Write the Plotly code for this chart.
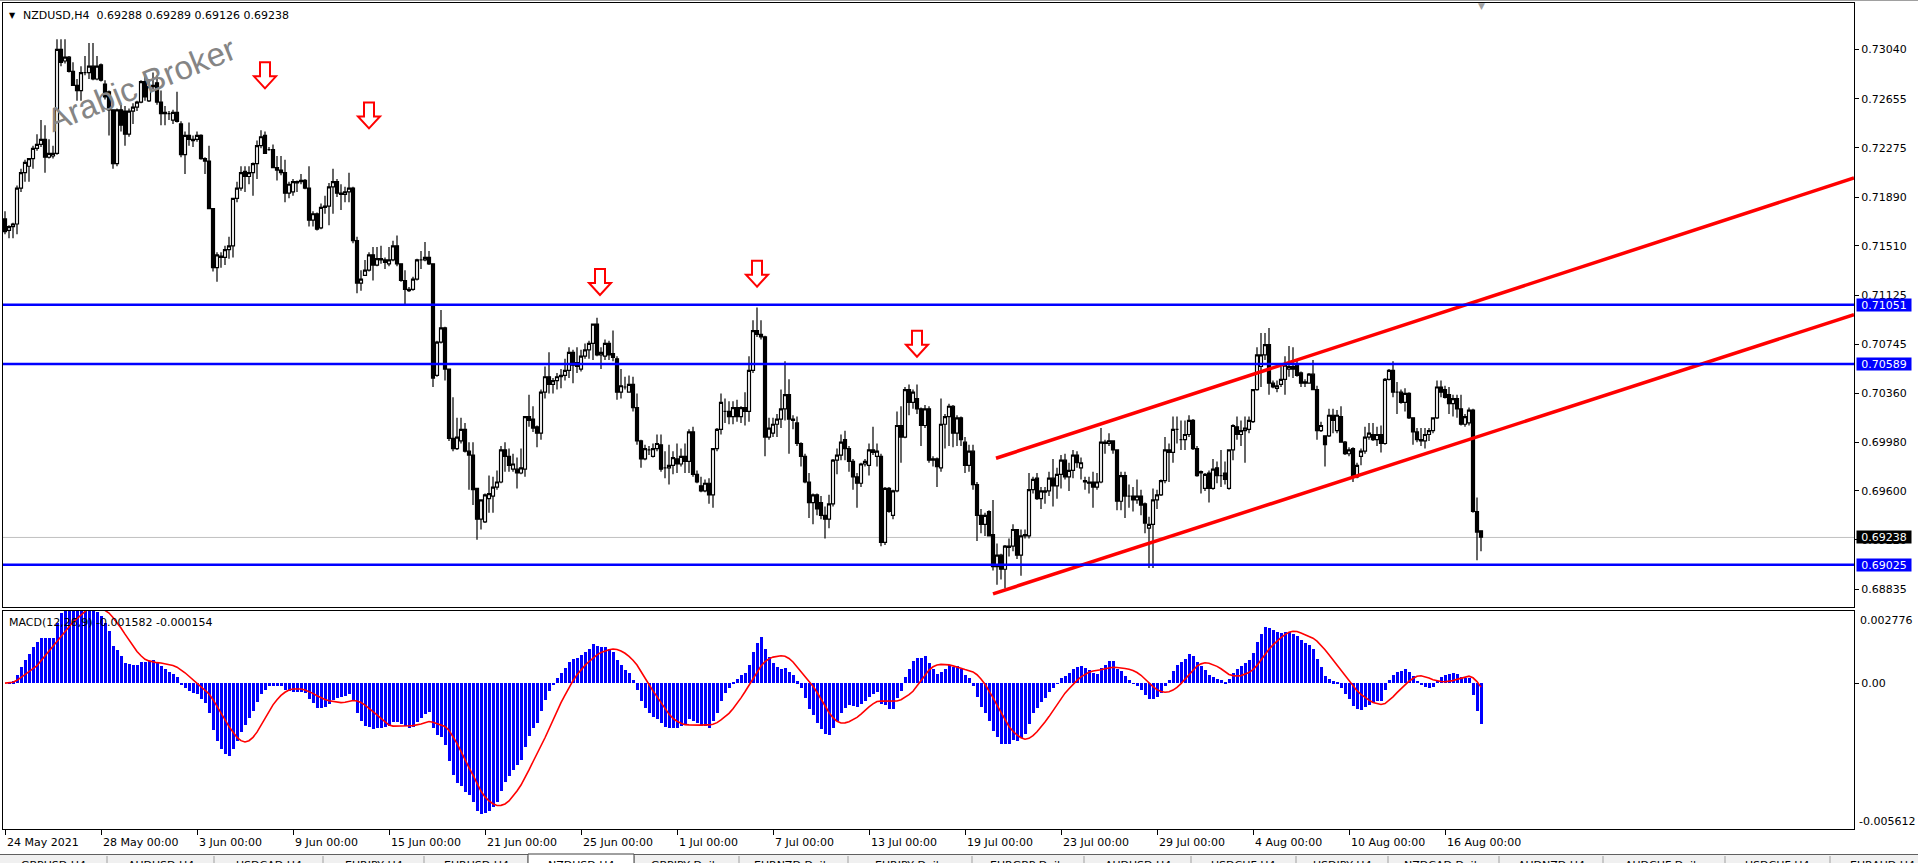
import numpy as np
import pandas as pd
import plotly.graph_objects as go

# ---------------- data (prices in units of 0.0001) ----------------
open_x1e4 = [
7172,7163,7166,7168,7196,7208,7213,7219,7227,7230,
7234,7220,7221,7223,7304,7295,7298,7287,7276,7272,
7286,7286,7291,7281,7292,7277,7271,7257,7215,7257,
7256,7238,7256,7259,7263,7279,7264,7275,7278,7263,
7255,7254,7249,7255,7246,7222,7237,7233,7234,7237,
7219,7217,7180,7134,7142,7142,7148,7151,7188,7196,
7209,7205,7208,7215,7229,7237,7226,7226,7212,7210,
7208,7192,7193,7200,7201,7202,7196,7171,7176,7165,
7181,7182,7197,7201,7192,7191,7193,7196,7155,7122,
7128,7132,7144,7136,7141,7140,7137,7140,7151,7137,
7124,7117,7117,7125,7140,7140,7142,7137,7050,7076,
7087,7055,7001,6993,6999,7008,6991,6988,6962,6938,
6936,6954,6956,6963,6967,6992,6987,6977,6977,6974,
6977,7018,7016,7010,7005,7037,7049,7043,7046,7049,
7050,7054,7068,7060,7055,7065,7070,7075,7090,7066,
7065,7075,7067,7063,7037,7041,7037,7043,7025,6999,
6985,6992,6987,6993,6996,6978,6978,6980,6985,6981,
6987,6983,7006,6973,6964,6960,6966,6957,6993,7008,
7022,7022,7018,7025,7018,7025,7022,7054,7085,7082,
7080,7002,7005,7012,7016,7024,7035,7016,7013,6997,
6987,6967,6951,6957,6951,6941,6938,6950,6984,6988,
7000,6993,6983,6971,6966,6981,6980,6992,6987,6987,
6920,6962,6941,6960,7011,7002,7039,7029,7032,7024,
7011,7024,6984,6985,6978,7012,7018,7026,7005,7017,
6998,6980,6991,6965,6941,6934,6944,6926,6901,6910,
6899,6916,6917,6930,6910,6925,6925,6961,6970,6954,
6959,6960,6970,6964,6973,6984,6971,6976,6988,6978,
6968,6967,6967,6963,6967,6998,6997,6999,6992,6952,
6972,6956,6956,6953,6956,6950,6931,6934,6953,6957,
6968,6992,6990,7008,7000,7000,7004,7015,6993,6974,
6962,6974,6962,6978,6972,6974,6962,6992,7010,7004,
7007,7008,7014,7039,7057,7066,7074,7044,7040,7043,
7047,7055,7057,7058,7052,7045,7044,7051,7039,7007,
7003,7003,7019,7007,7018,6998,6989,6993,6971,6987,
6991,7002,7004,7000,7004,6997,7047,7054,7037,7037,
7029,7036,7017,7006,7000,6999,7004,7007,7017,7041,
7039,7035,7028,7032,7024,7012,7013,7023,6944,6929,
]
high_x1e4 = [
7178,7167,7169,7198,7211,7218,7219,7229,7238,7249,
7245,7234,7229,7312,7312,7312,7299,7294,7281,7291,
7299,7309,7309,7299,7293,7280,7272,7257,7258,7261,
7260,7258,7262,7264,7280,7284,7281,7286,7284,7272,
7260,7256,7257,7271,7248,7240,7247,7237,7240,7238,
7220,7229,7180,7146,7146,7151,7158,7188,7201,7213,
7213,7213,7216,7233,7241,7240,7228,7230,7221,7221,
7218,7201,7203,7202,7207,7203,7213,7178,7177,7184,
7190,7200,7211,7203,7199,7197,7208,7197,7158,7132,
7140,7146,7150,7150,7151,7142,7150,7155,7159,7137,
7132,7119,7127,7141,7147,7154,7147,7137,7077,7101,
7088,7055,7033,7017,7017,7013,6998,6998,6962,6953,
6958,6972,6971,6976,6995,6998,6993,6989,6986,6993,
7018,7035,7026,7011,7039,7057,7068,7048,7052,7055,
7063,7072,7070,7072,7070,7075,7077,7090,7095,7072,
7078,7077,7085,7065,7055,7049,7050,7049,7036,7000,
6996,6995,6997,7004,7004,6991,6996,6991,6997,6993,
6997,7008,7010,6976,6971,6969,6970,6993,7009,7036,
7032,7030,7030,7031,7026,7037,7065,7093,7103,7093,
7081,7017,7017,7020,7039,7061,7047,7019,7018,6998,
6989,6974,6958,6958,6956,6948,6957,6985,6993,7004,
7007,6995,6985,6974,6982,6985,6997,7010,6997,6989,
6963,6963,6961,7022,7026,7041,7043,7039,7043,7025,
7027,7026,6987,6986,7032,7020,7028,7027,7019,7018,
7002,6996,6996,6967,6946,6943,6945,6953,6919,6911,
6918,6923,6934,6930,6930,6930,6974,6971,6974,6963,
6963,6975,6985,6978,6988,6989,6982,6992,6991,6986,
6971,6971,6975,6974,7009,7000,7005,6999,6992,6975,
6975,6965,6963,6969,6961,6951,6940,6962,6961,6969,
7002,6997,7018,7018,7015,7015,7019,7016,6995,6976,
6974,6976,6985,6983,6992,6983,6992,7012,7018,7015,
7018,7018,7039,7072,7083,7083,7087,7046,7046,7057,
7065,7073,7072,7062,7053,7047,7052,7062,7042,7014,
7003,7024,7024,7023,7026,6999,6994,6994,6982,6993,
7010,7013,7013,7010,7011,7048,7055,7061,7045,7039,
7040,7037,7017,7009,7009,7009,7009,7017,7046,7046,
7042,7041,7035,7035,7035,7020,7025,7024,6955,6929,
]
low_x1e4 = [
7160,7157,7157,7160,7193,7201,7201,7211,7225,7228,
7208,7219,7219,7222,7291,7293,7286,7276,7264,7264,
7284,7281,7280,7280,7279,7265,7237,7211,7213,7240,
7229,7236,7246,7256,7262,7264,7263,7273,7261,7245,
7245,7249,7246,7247,7220,7207,7229,7228,7232,7218,
7207,7180,7131,7123,7134,7136,7141,7142,7185,7194,
7193,7199,7190,7203,7227,7223,7225,7212,7202,7206,
7185,7188,7190,7193,7199,7195,7166,7166,7163,7164,
7176,7167,7176,7189,7179,7185,7185,7153,7114,7116,
7128,7131,7124,7135,7137,7133,7135,7139,7135,7123,
7105,7115,7116,7124,7133,7139,7136,7041,7049,7075,
7046,6999,6991,6992,6997,6990,6961,6949,6922,6930,
6935,6943,6943,6961,6966,6975,6975,6975,6962,6973,
6971,7010,7006,6994,7000,7032,7036,7036,7039,7040,
7046,7048,7044,7052,7053,7063,7063,7062,7065,7055,
7062,7062,7061,7031,7032,7039,7037,7022,6996,6978,
6984,6988,6986,6991,6975,6970,6965,6973,6974,6979,
6974,6974,6971,6966,6959,6959,6950,6947,6991,7004,
7013,7012,7012,7014,7013,7011,7014,7052,7080,7078,
6987,7000,7002,7002,7009,7015,6989,7008,6995,6979,
6966,6939,6934,6941,6938,6923,6931,6948,6973,6984,
6984,6975,6961,6947,6963,6979,6972,6988,6979,6917,
6918,6943,6938,6959,6982,7001,7019,7024,7020,6995,
7009,6982,6979,6963,6975,6993,6995,6994,6995,6995,
6974,6975,6961,6921,6927,6925,6925,6898,6887,6891,
6884,6909,6913,6907,6894,6923,6923,6958,6953,6946,
6950,6956,6948,6954,6962,6969,6960,6970,6978,6969,
6961,6958,6947,6961,6966,6989,6995,6989,6945,6945,
6939,6947,6944,6950,6941,6927,6900,6900,6946,6956,
6966,6967,6982,6997,6992,6992,7002,6992,6971,6958,
6960,6951,6961,6966,6963,6965,6961,6984,7000,6995,
6982,7005,7013,7038,7041,7062,7035,7040,7037,7041,
7035,7049,7048,7049,7041,7041,7044,7039,7000,7006,
6979,7002,7005,7005,6998,6988,6987,6967,6970,6980,
6989,7000,6999,6995,6990,6996,7046,7033,7020,7028,
7022,7016,6996,6998,6995,6993,6999,7005,7016,7033,
7032,7020,7018,7017,7011,7010,7011,6943,6906,6913,
]
close_x1e4 = [
7162,7166,7168,7196,7208,7216,7219,7227,7230,7234,
7220,7223,7223,7304,7294,7298,7287,7276,7272,7286,
7286,7291,7281,7291,7280,7267,7257,7215,7257,7245,
7238,7256,7259,7263,7279,7267,7275,7276,7263,7254,
7254,7254,7255,7248,7222,7237,7234,7234,7237,7219,
7217,7180,7134,7144,7143,7148,7151,7188,7196,7208,
7205,7208,7215,7229,7236,7223,7226,7212,7210,7208,
7192,7199,7201,7201,7202,7196,7171,7176,7164,7181,
7182,7197,7201,7192,7191,7193,7196,7155,7122,7125,
7132,7144,7136,7141,7140,7138,7140,7151,7137,7124,
7117,7116,7125,7140,7140,7142,7137,7048,7076,7087,
7055,7001,6993,7002,7008,6991,6988,6961,6938,6953,
6957,6958,6963,6967,6992,6987,6980,6981,6974,6978,
7018,7015,7009,7005,7037,7049,7043,7046,7049,7050,
7054,7068,7058,7057,7065,7070,7075,7090,7066,7068,
7075,7066,7064,7037,7042,7041,7043,7025,6999,6985,
6993,6992,6993,6997,6977,6978,6980,6986,6981,6987,
6983,7006,6973,6967,6960,6966,6957,6993,7008,7029,
7022,7018,7025,7018,7025,7022,7054,7085,7082,7080,
7002,7009,7012,7016,7024,7035,7016,7015,6997,6987,
6967,6951,6957,6946,6941,6938,6950,6984,6988,6998,
6993,6983,6971,6966,6981,6983,6992,6990,6991,6920,
6962,6944,6960,7011,7002,7039,7029,7037,7024,7011,
7024,6984,6985,6979,7012,7018,7026,7005,7017,7000,
6980,6991,6965,6941,6934,6941,6925,6901,6910,6899,
6917,6917,6930,6910,6925,6926,6961,6969,6954,6960,
6960,6970,6964,6973,6984,6971,6976,6988,6982,6982,
6967,6966,6963,6967,6998,6997,6999,6992,6952,6972,
6956,6956,6953,6956,6949,6935,6934,6953,6957,6968,
6992,6990,7008,7008,7000,7004,7015,6993,6972,6975,
6973,6962,6977,6972,6972,6969,6992,7011,7004,7007,
7009,7015,7039,7066,7066,7074,7044,7041,7042,7047,
7058,7057,7055,7050,7044,7044,7051,7039,7007,7011,
6996,7019,7015,7019,6998,6989,6992,6971,6980,6991,
7002,7005,7000,7004,6997,7047,7054,7037,7037,7029,
7036,7017,7006,7000,6999,7004,7007,7017,7041,7037,
7033,7028,7032,7024,7012,7018,7023,6944,6928,6924,
]

# date labels on the time axis (bar index of each label)
date_label_bars = [0, 24, 48, 72, 96, 120, 144, 168, 192, 216, 240, 264, 288, 312, 336, 360]
date_labels = ["24 May 2021", "28 May 00:00", "3 Jun 00:00", "9 Jun 00:00", "15 Jun 00:00",
               "21 Jun 00:00", "25 Jun 00:00", "1 Jul 00:00", "7 Jul 00:00", "13 Jul 00:00",
               "19 Jul 00:00", "23 Jul 00:00", "29 Jul 00:00", "4 Aug 00:00", "10 Aug 00:00",
               "16 Aug 00:00"]

price_ticks = [0.73040, 0.72655, 0.72275, 0.71890, 0.71510, 0.71125, 0.70745,
               0.70360, 0.69980, 0.69600, 0.69220, 0.68835]

level_prices = [0.71051, 0.70589, 0.69025]      # blue horizontal levels
last_price = 0.69238                            # current bid line

channel_upper_bars = [247.75, 462.25]
channel_upper_prices = [0.69855, 0.72039]
channel_lower_bars = [247.0, 462.25]
channel_lower_prices = [0.68798, 0.70974]

# down-arrow markers: bar index and price of the arrow tip
arrow_bars = [65, 91, 148.75, 188, 228]
arrow_tip_prices = [0.72737, 0.72425, 0.71127, 0.71192, 0.70646]

macd_top, macd_bottom = 0.002776, -0.005612

# terminal tabs along the bottom edge
tab_names = ["GBPUSD,H4", "AUDUSD,H4", "USDCAD,H4", "EURJPY,H4", "EURUSD,H4", "NZDUSD,H4",
             "GBPJPY,Daily", "EURNZD,Daily", "EURJPY,Daily", "EURGBP,Daily", "AUDUSD,H4",
             "USDCHF,H4", "USDJPY,H4", "NZDCAD,Daily", "AUDNZD,H4", "AUDCHF,Daily",
             "USDCHF,H4", "EURAUD,H4"]
tab_edges = [0, 107, 214, 323, 424, 528, 634, 739, 848, 972, 1084, 1191, 1296, 1388,
             1499, 1603, 1725, 1830, 1935]
active_tab = 5

# ---------------- derived ----------------
bars = list(range(len(close_x1e4)))
o = [v / 1e4 for v in open_x1e4]
h = [v / 1e4 for v in high_x1e4]
l = [v / 1e4 for v in low_x1e4]
c = [v / 1e4 for v in close_x1e4]

cs = pd.Series(c)
macd_main = cs.ewm(span=12, adjust=False).mean() - cs.ewm(span=26, adjust=False).mean()
macd_signal = macd_main.rolling(9, min_periods=1).mean()

# pixel helpers for paper coordinates
W, H = 1918, 863
ML, MR, MT, MB = 3, 64, 3, 34
PW, PH = W - ML - MR, H - MT - MB
def px(xp):
    return (xp - ML) / PW
def py(yp):
    return (H - MB - yp) / PH

FONT = "DejaVu Sans"

fig = go.Figure()

fig.add_trace(go.Candlestick(
    x=bars, open=o, high=h, low=l, close=c,
    xaxis="x", yaxis="y",
    increasing=dict(line=dict(color="black", width=1.2), fillcolor="white"),
    decreasing=dict(line=dict(color="black", width=1.2), fillcolor="black"),
    whiskerwidth=0, showlegend=False, hoverinfo="skip",
))

for bx, bp in [(channel_upper_bars, channel_upper_prices), (channel_lower_bars, channel_lower_prices)]:
    fig.add_trace(go.Scatter(x=bx, y=bp, mode="lines", xaxis="x", yaxis="y",
                             line=dict(color="#FF0000", width=3.5), showlegend=False,
                             hoverinfo="skip"))

fig.add_trace(go.Bar(x=bars, y=macd_main, xaxis="x2", yaxis="y2",
                     marker=dict(color="#0000FF", line=dict(width=0)), width=0.75,
                     showlegend=False, hoverinfo="skip"))
fig.add_trace(go.Scatter(x=bars, y=macd_signal, xaxis="x2", yaxis="y2", mode="lines",
                         line=dict(color="#FF0000", width=1.6), showlegend=False,
                         hoverinfo="skip"))

shapes = []
for lv in level_prices:
    shapes.append(dict(type="line", xref="paper", yref="y", x0=0, x1=1, y0=lv, y1=lv,
                       line=dict(color="#0000FF", width=2.5)))
shapes.append(dict(type="line", xref="paper", yref="y", x0=0, x1=1, y0=last_price, y1=last_price,
                   line=dict(color="#C0C0C0", width=1), layer="below"))

# hollow down arrows, sized in pixels and anchored at their tips
arrow_path = "M0,0 L-11,12 L-5,12 L-5,26 L5,26 L5,12 L11,12 Z"
for ab, ap in zip(arrow_bars, arrow_tip_prices):
    shapes.append(dict(type="path", xref="x", yref="y", xsizemode="pixel", ysizemode="pixel",
                       xanchor=ab, yanchor=ap, path=arrow_path,
                       line=dict(color="#FF0000", width=2), fillcolor="rgba(255,255,255,0)"))

# window frame at top
shapes.append(dict(type="line", xref="paper", yref="paper", x0=px(0), x1=px(W), y0=py(0.5), y1=py(0.5),
                   line=dict(color="#A0A0A0", width=1)))

# bottom tab bar
shapes.append(dict(type="rect", xref="paper", yref="paper", x0=px(0), x1=px(W), y0=py(854), y1=py(H + 2),
                   fillcolor="#F0F0F0", line=dict(width=0), layer="below"))
shapes.append(dict(type="line", xref="paper", yref="paper", x0=px(0), x1=px(W), y0=py(854.5), y1=py(854.5),
                   line=dict(color="#606060", width=1)))
for i, e in enumerate(tab_edges[1:-1]):
    shapes.append(dict(type="line", xref="paper", yref="paper", x0=px(e), x1=px(e), y0=py(856), y1=py(H),
                       line=dict(color="#A0A0A0", width=1)))
shapes.append(dict(type="rect", xref="paper", yref="paper",
                   x0=px(tab_edges[active_tab]), x1=px(tab_edges[active_tab + 1]),
                   y0=py(854), y1=py(H + 2), fillcolor="white",
                   line=dict(color="#404040", width=1)))

annotations = []
# title
annotations.append(dict(xref="paper", yref="paper", x=px(7), y=py(15), xanchor="left", yanchor="middle",
                        text="▼", showarrow=False, font=dict(family=FONT, size=8, color="black")))
annotations.append(dict(xref="paper", yref="paper", x=px(21), y=py(15), xanchor="left", yanchor="middle",
                        text="NZDUSD,H4  0.69288 0.69289 0.69126 0.69238", showarrow=False,
                        font=dict(family=FONT, size=11, color="black")))
annotations.append(dict(xref="paper", yref="paper", x=px(7), y=py(622), xanchor="left", yanchor="middle",
                        text="MACD(12,26,9) -0.001582 -0.000154", showarrow=False,
                        font=dict(family=FONT, size=11, color="black")))
# chart shift marker
annotations.append(dict(xref="paper", yref="paper", x=px(1481), y=py(6), xanchor="center", yanchor="middle",
                        text="▼", showarrow=False, font=dict(family=FONT, size=9, color="#A0A0A0")))
# watermark
annotations.append(dict(xref="paper", yref="paper", x=px(141), y=py(84), xanchor="center", yanchor="middle",
                        text="Arabic Broker", textangle=-22, showarrow=False,
                        font=dict(family="Liberation Sans", size=33, color="#858585")))
# price boxes on the right axis
for lv in level_prices:
    annotations.append(dict(xref="paper", yref="y", x=1, y=lv, xanchor="left", yanchor="middle",
                            xshift=2, text=f"{lv:.5f}", showarrow=False, bgcolor="#0000FF",
                            width=54, height=12, borderpad=0, align="center",
                            font=dict(family=FONT, size=11, color="white")))
annotations.append(dict(xref="paper", yref="y", x=1, y=last_price, xanchor="left", yanchor="middle",
                        xshift=2, text=f"{last_price:.5f}", showarrow=False, bgcolor="#000000",
                        width=54, height=12, borderpad=0, align="center",
                        font=dict(family=FONT, size=11, color="white")))
# macd scale ends
annotations.append(dict(xref="paper", yref="paper", x=1, y=py(620), xanchor="left", yanchor="middle",
                        xshift=4, text=f"{macd_top:.6f}", showarrow=False,
                        font=dict(family=FONT, size=11, color="black")))
annotations.append(dict(xref="paper", yref="paper", x=1, y=py(821), xanchor="left", yanchor="middle",
                        xshift=3, text=f"{macd_bottom:.6f}", showarrow=False,
                        font=dict(family=FONT, size=11, color="black")))
# date labels
for b, t in zip(date_label_bars, date_labels):
    annotations.append(dict(xref="x2", yref="paper", x=b, y=py(842), xanchor="left", yanchor="middle",
                            xshift=0, text=t, showarrow=False,
                            font=dict(family=FONT, size=11, color="black")))
# tab labels (the bar is cut by the window edge)
for i, name in enumerate(tab_names):
    mid = (tab_edges[i] + tab_edges[i + 1]) / 2
    annotations.append(dict(xref="paper", yref="paper", x=px(mid), y=py(857), xanchor="center",
                            yanchor="top", text=name, showarrow=False,
                            font=dict(family=FONT, size=11, color="black")))

axis_common = dict(showgrid=False, zeroline=False, showline=True, linecolor="black",
                   linewidth=1, mirror=True)

fig.update_layout(
    width=W, height=H,
    margin=dict(l=ML, r=MR, t=MT, b=MB, autoexpand=False),
    paper_bgcolor="white", plot_bgcolor="white",
    boxgap=0.25, boxgroupgap=0, bargap=0,
    xaxis=dict(domain=[0, 1], anchor="y", range=[-0.5, 462.25], showticklabels=False,
               ticks="", rangeslider=dict(visible=False), **axis_common),
    yaxis=dict(domain=[py(607), 1], anchor="x", side="right",
               range=[0.68696, 0.73402], tickvals=price_ticks,
               ticktext=[f"{v:.5f}" for v in price_ticks], ticks="outside", ticklen=4,
               tickcolor="black", tickfont=dict(family=FONT, size=11, color="black"),
               **axis_common),
    xaxis2=dict(domain=[0, 1], anchor="y2", range=[-0.5, 462.25], showticklabels=False,
                tickvals=date_label_bars, ticks="outside", ticklen=5, tickcolor="black",
                rangeslider=dict(visible=False), **axis_common),
    yaxis2=dict(domain=[0, py(611)], anchor="x2", side="right", range=[macd_bottom, macd_top],
                tickvals=[0], ticktext=["0.00"], ticks="outside", ticklen=4, tickcolor="black",
                tickfont=dict(family=FONT, size=11, color="black"), **axis_common),
    shapes=shapes,
    annotations=annotations,
)

fig.write_html("out.html", config={"displayModeBar": False},
               post_script="document.body.style.margin='0';document.body.style.overflow='hidden';")
